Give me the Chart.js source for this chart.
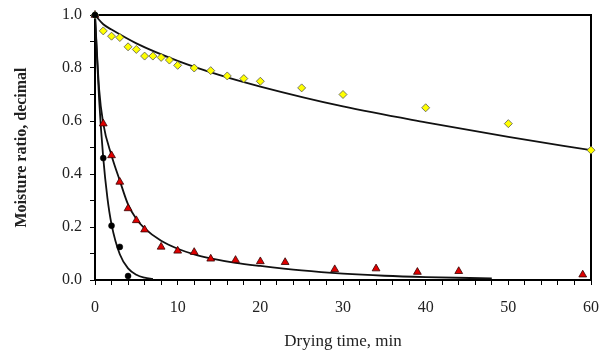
<!DOCTYPE html>
<html>
<head>
<meta charset="utf-8">
<script src="https://cdn.jsdelivr.net/npm/chart.js@4.4.1/dist/chart.umd.min.js"></script>
<style>
  html, body { margin: 0; padding: 0; background: #fff; }
  #wrap { width: 607px; height: 352px; }
</style>
</head>
<body>
<div id="wrap"><canvas id="chart" width="607" height="352"></canvas></div>
<script>
// measured points (drying time in min, moisture ratio)
const yellowTime = [0, 1, 2, 3, 4, 5, 6, 7, 8, 9, 10, 12, 14, 16, 18, 20, 25, 30, 40, 50, 60];
const yellowMR = [1.0, 0.94, 0.92, 0.915, 0.88, 0.87, 0.845, 0.845, 0.84, 0.83, 0.81, 0.80, 0.79, 0.77, 0.76, 0.75, 0.725, 0.70, 0.65, 0.59, 0.49];

const redTime = [0, 1, 2, 3, 4, 5, 6, 8, 10, 12, 14, 17, 20, 23, 29, 34, 39, 44, 59];
const redMR = [1.0, 0.59, 0.47, 0.37, 0.27, 0.225, 0.19, 0.125, 0.11, 0.105, 0.08, 0.075, 0.07, 0.067, 0.04, 0.043, 0.03, 0.033, 0.02];

const blackTime = [0, 1, 2, 3, 4];
const blackMR = [1.0, 0.46, 0.205, 0.125, 0.015];

// fitted curves
const yellowFitTime = [0, 1, 2, 5, 10, 15, 20, 30, 40, 50, 60];
const yellowFitMR = [1.0, 0.965, 0.945, 0.893, 0.827, 0.774, 0.73, 0.655, 0.595, 0.54, 0.49];

const redFitTime = [0, 0.5, 1, 2, 3, 4, 5, 6, 8, 10, 12, 14, 17, 20, 25, 30, 35, 40, 48];
const redFitMR = [1.0, 0.72, 0.59, 0.47, 0.375, 0.285, 0.23, 0.195, 0.148, 0.118, 0.097, 0.082, 0.065, 0.053, 0.036, 0.024, 0.016, 0.011, 0.006];

const blackFitTime = [0, 0.5, 1, 1.5, 2, 3, 4, 5, 6, 7];
const blackFitMR = [1.0, 0.68, 0.46, 0.31, 0.21, 0.097, 0.044, 0.02, 0.009, 0.004];

const xTicks = [0, 10, 20, 30, 40, 50, 60];
const yTicks = [0.0, 0.2, 0.4, 0.6, 0.8, 1.0];

const pts = (xs, ys) => xs.map((x, i) => ({ x: x, y: ys[i] }));

const fitLine = (xs, ys) => ({
  type: 'line',
  data: pts(xs, ys),
  borderColor: '#111',
  borderWidth: 1.8,
  pointRadius: 0,
  cubicInterpolationMode: 'monotone',
  fill: false,
  order: 2
});

// frame around the plot area (top and right sides too)
const frame = {
  id: 'frame',
  beforeDatasetsDraw(chart) {
    const a = chart.chartArea;
    const ctx = chart.ctx;
    ctx.save();
    ctx.strokeStyle = '#000';
    ctx.lineWidth = 2;
    ctx.strokeRect(a.left, a.top, a.right - a.left, a.bottom - a.top);
    ctx.restore();
  }
};

const serif = 'Liberation Serif, Times New Roman, serif';

new Chart(document.getElementById('chart'), {
  type: 'scatter',
  data: {
    datasets: [
      fitLine(yellowFitTime, yellowFitMR),
      fitLine(redFitTime, redFitMR),
      fitLine(blackFitTime, blackFitMR),
      {
        data: pts(yellowTime, yellowMR),
        pointStyle: 'rectRot',
        pointRadius: 4,
        backgroundColor: '#ffff00',
        borderColor: '#555',
        borderWidth: 0.8,
        clip: false,
        order: 1
      },
      {
        data: pts(redTime, redMR),
        pointStyle: 'triangle',
        pointRadius: 4.5,
        backgroundColor: '#e00000',
        borderColor: '#300',
        borderWidth: 0.8,
        clip: false,
        order: 1
      },
      {
        data: pts(blackTime, blackMR),
        pointStyle: 'circle',
        pointRadius: 3,
        backgroundColor: '#000',
        borderColor: '#000',
        borderWidth: 0.5,
        clip: false,
        order: 0
      }
    ]
  },
  options: {
    responsive: false,
    animation: false,
    layout: { padding: { top: 15, right: 16, left: 0, bottom: 0 } },
    plugins: { legend: { display: false }, tooltip: { enabled: false } },
    scales: {
      x: {
        type: 'linear',
        min: 0,
        max: 60,
        afterBuildTicks: (scale) => {
          const t = [];
          for (let v = 0; v <= 60; v += 2) t.push({ value: v });
          scale.ticks = t;
        },
        afterFit: (scale) => {
          scale.height = 72;
          scale.paddingLeft = 0;
          scale.paddingRight = 0;
        },
        ticks: {
          autoSkip: false,
          maxRotation: 0,
          padding: 13,
          color: '#222',
          font: { family: serif, size: 16 },
          callback: (v) => xTicks.includes(v) ? String(v) : ''
        },
        grid: { drawOnChartArea: false, tickLength: 5, color: '#000', tickWidth: 1 },
        border: { color: '#000', width: 2 },
        title: {
          display: true,
          text: 'Drying time, min',
          color: '#222',
          font: { family: serif, size: 17 },
          padding: { top: 0, bottom: 0 }
        }
      },
      y: {
        min: 0,
        max: 1,
        afterBuildTicks: (scale) => {
          const t = [];
          for (let i = 0; i <= 10; i++) t.push({ value: i / 10 });
          scale.ticks = t;
        },
        afterFit: (scale) => {
          scale.width = 95;
          scale.paddingTop = 0;
          scale.paddingBottom = 0;
        },
        ticks: {
          autoSkip: false,
          padding: 8,
          color: '#222',
          font: { family: serif, size: 16 },
          callback: (v) => yTicks.some(t => Math.abs(t - v) < 1e-6) ? v.toFixed(1) : ''
        },
        grid: { drawOnChartArea: false, tickLength: 5, color: '#000', tickWidth: 1 },
        border: { color: '#000', width: 2 },
        title: {
          display: true,
          text: 'Moisture ratio, decimal',
          color: '#222',
          font: { family: serif, size: 16, weight: 'bold' },
          padding: { top: 12, bottom: 0 }
        }
      }
    }
  },
  plugins: [frame]
});
</script>
</body>
</html>
